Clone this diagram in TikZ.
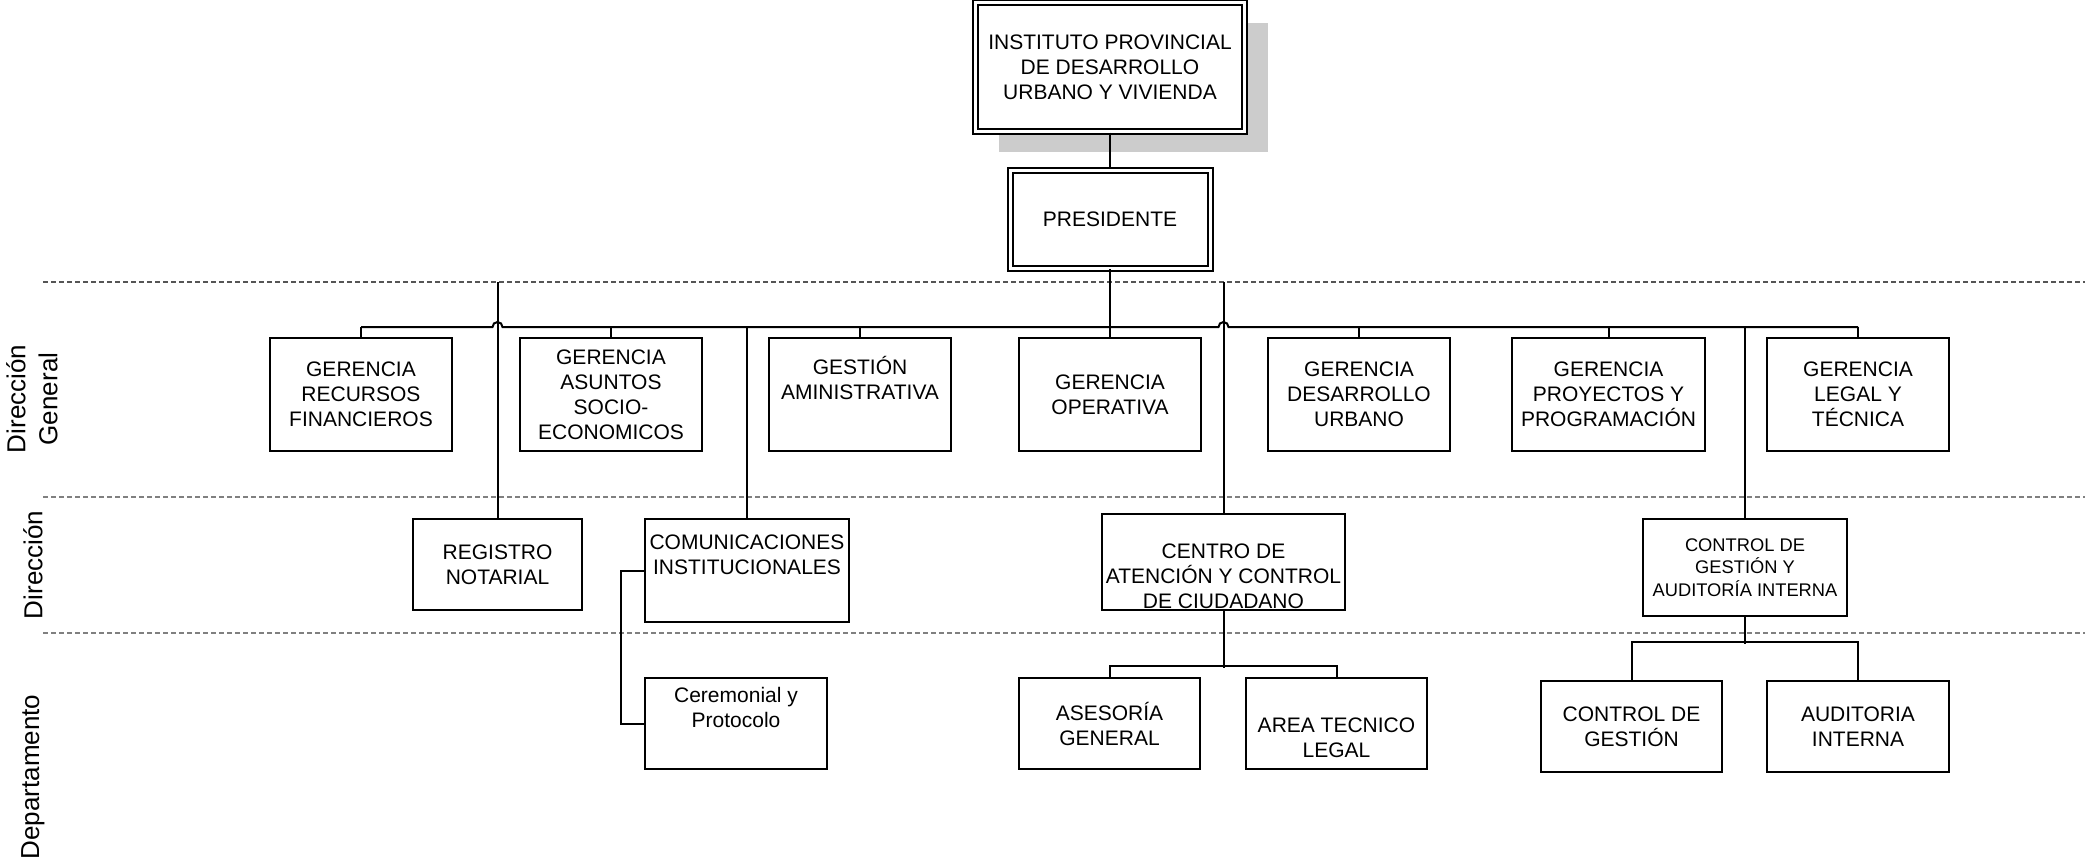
\documentclass[tikz,border=0pt]{standalone}
\usepackage{fontspec}
\setmainfont{Liberation Sans}
\usetikzlibrary{shadows}
\definecolor{shadowgray}{HTML}{CCCCCC}
\definecolor{lvdark}{HTML}{555555}
\definecolor{lvgray}{HTML}{808080}
\tikzset{
  orgbox/.style={draw, line width=1pt, fill=white, align=center, inner sep=0pt,
    minimum width=91pt, minimum height=56.5pt, font=\fontsize{10.5}{12.5}\selectfont},
  headbox/.style={orgbox, double, double distance=1.5pt, line width=1pt},
  orgline/.style={line width=1pt},
  levelline/.style={line width=0.75pt, dash pattern=on 2.5pt off 1.5pt},
  levellabel/.style={rotate=90, align=center, font=\fontsize{13}{16}\selectfont}
}
\begin{document}
\begin{tikzpicture}[x=0.5pt, y=-0.5pt]
        \useasboundingbox (0,0) rectangle (2085,867);
        % Level separators
        \coordinate (lvA) at (43,282);
        \draw[levelline, lvdark] (lvA) -- (2085,282);
        \draw[levelline, lvgray] (43,497) -- (2085,497);
        \draw[levelline, lvgray] (43,633) -- (2085,633);
        % Level labels
        \node[levellabel] (lblgen) at (32,399) {Dirección\\General};
        \node[levellabel] (lbldir) at (33,565) {Dirección};
        \node[levellabel] (lbldep) at (33,777) {Departamento};
        % Top: institute and president
        \node[headbox, minimum width=134.5pt, minimum height=64.5pt,
          drop shadow={shadow xshift=11.5pt, shadow yshift=-10pt, fill=shadowgray, opacity=1}]
          (inst) at (1110,67) {INSTITUTO PROVINCIAL\\DE DESARROLLO\\URBANO Y VIVIENDA};
        \node[headbox, minimum width=100pt, minimum height=49pt]
          (pres) at (1110,219) {PRESIDENTE};
        % Direccion General
        \node[orgbox] (rec) at (361,394.5) {GERENCIA\\RECURSOS\\FINANCIEROS};
        \node[orgbox] (asu) at (611,394.5) {GERENCIA\\ASUNTOS\\SOCIO-\\ECONOMICOS};
        \node[orgbox] (ges) at (860,394.5) {GESTIÓN\\AMINISTRATIVA\\\strut};
        \node[orgbox] (ope) at (1110,394.5) {GERENCIA\\OPERATIVA};
        \node[orgbox] (des) at (1359,394.5) {GERENCIA\\DESARROLLO\\URBANO};
        \node[orgbox, minimum width=96.5pt] (pro) at (1608.5,394.5) {GERENCIA\\PROYECTOS Y\\PROGRAMACIÓN};
        \node[orgbox] (leg) at (1858,394.5) {GERENCIA\\LEGAL Y\\TÉCNICA};
        % Direccion
        \node[orgbox, minimum width=84.5pt, minimum height=45.5pt]
          (reg) at (497.5,564.5) {REGISTRO\\NOTARIAL};
        \node[orgbox, minimum width=102pt, minimum height=51.5pt]
          (com) at (747,570.5) {COMUNICACIONES\\INSTITUCIONALES\\\strut};
        \node[orgbox, minimum width=121.5pt, minimum height=48pt]
          (cen) at (1223.5,562) {\strut\\CENTRO DE\\ATENCIÓN Y CONTROL\\DE CIUDADANO};
        \node[orgbox, minimum width=102pt, minimum height=48.5pt, font=\fontsize{9.15}{11.25}\selectfont]
          (cga) at (1745,567.5) {CONTROL DE\\GESTIÓN Y\\AUDITORÍA INTERNA};
        % Departamento
        \node[orgbox, minimum height=45.5pt] (cer) at (736,723.5) {Ceremonial y\\Protocolo\\\strut};
        \node[orgbox, minimum width=90.5pt, minimum height=45.5pt] (ase) at (1109.5,723.5) {ASESORÍA\\GENERAL};
        \node[orgbox, minimum width=90.5pt, minimum height=45.5pt] (are) at (1336.5,723.5) {\strut\\AREA TECNICO\\LEGAL};
        \node[orgbox, minimum width=90.5pt, minimum height=45.5pt] (cdg) at (1631.5,726.5) {CONTROL DE\\GESTIÓN};
        \node[orgbox, minimum height=45.5pt] (aud) at (1858,726.5) {AUDITORIA\\INTERNA};
        % Connectors
        \coordinate (bus) at (1110,327);
        \coordinate (hopa) at (reg.north |- bus);
        \coordinate (hopb) at (cen.north |- bus);
        \draw[orgline] (inst) -- (pres);
        \draw[orgline] (pres.south) -- (pres.south |- bus);
        \draw[orgline] (rec.north |- bus) -- ([xshift=-2.5pt]hopa)
          arc[start angle=180, end angle=0, radius=2.5pt] -- ([xshift=-2.5pt]hopb)
          arc[start angle=180, end angle=0, radius=2.5pt] -- (leg.north |- bus);
        \foreach \n in {rec,asu,ges,ope,des,pro,leg}
          \draw[orgline] (\n.north |- bus) -- (\n.north);
        \draw[orgline] (reg.north |- lvA) -- (reg.north);
        \draw[orgline] (cen.north |- lvA) -- (cen.north);
        \draw[orgline] (com.north |- bus) -- (com.north);
        \draw[orgline] (cga.north |- bus) -- (cga.north);
        \draw[orgline] (com.west) -- ++(-23,0) |- (cer.west);
        \draw[orgline] (cen.south) -- ++(0,57);
        \draw[orgline] (ase.north) -- ++(0,-11) -| (are.north);
        \draw[orgline] (cga.south) -- ++(0,27);
        \draw[orgline] (cdg.north) -- ++(0,-38) -| (aud.north);
      \end{tikzpicture}
\end{document}
